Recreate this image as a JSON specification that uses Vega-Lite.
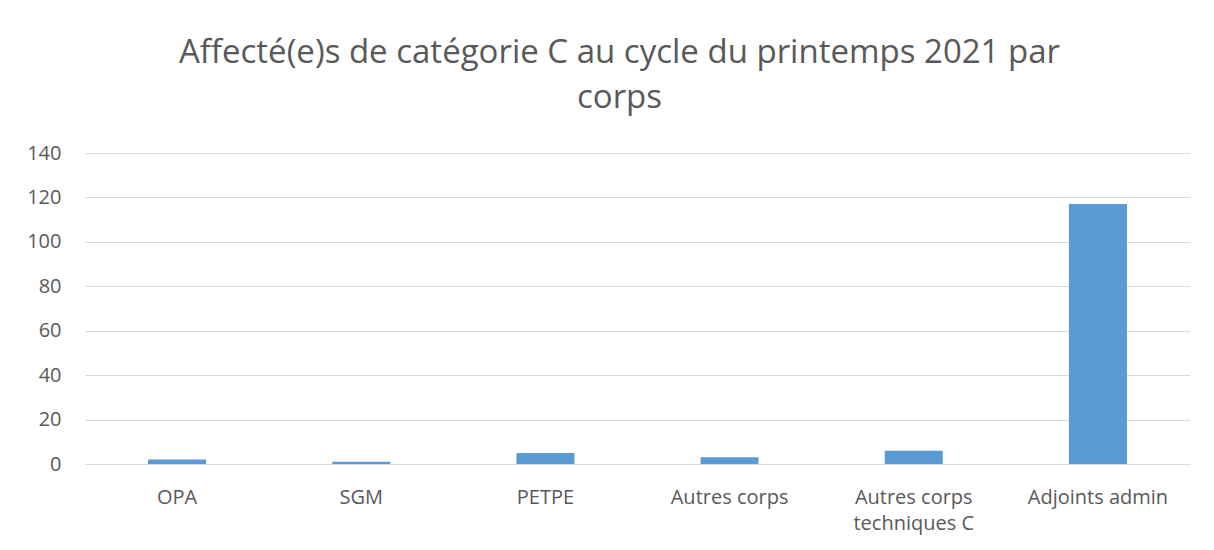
{
  "$schema": "https://vega.github.io/schema/vega-lite/v6.json",
  "autosize": {"type": "fit", "contains": "padding"},
  "width": 1214,
  "height": 550,
  "padding": {"left": 26, "right": 24, "top": 37, "bottom": 17},
  "background": "white",
  "title": {
    "text": ["Affecté(e)s de catégorie C au cycle du printemps 2021 par", "corps"],
    "font": "Open Sans",
    "fontSize": 33,
    "fontWeight": "normal",
    "color": "#595959",
    "lineHeight": 45,
    "anchor": "middle",
    "dx": -18,
    "offset": 28
  },
  "data": {
    "values": [
      {"corps": "OPA", "n": 2},
      {"corps": "SGM", "n": 1},
      {"corps": "PETPE", "n": 5},
      {"corps": "Autres corps", "n": 3},
      {"corps": "Autres corps techniques C", "n": 6},
      {"corps": "Adjoints admin", "n": 117}
    ]
  },
  "mark": {"type": "bar", "color": "#5b9bd5"},
  "encoding": {
    "x": {
      "field": "corps",
      "type": "nominal",
      "sort": null,
      "title": null,
      "scale": {"paddingInner": 0.685, "paddingOuter": 0.3425},
      "axis": {
        "labelAngle": 0,
        "labelFont": "Open Sans",
        "labelFontSize": 20,
        "labelColor": "#595959",
        "labelPadding": 23,
        "labelLineHeight": 26,
        "ticks": false,
        "domainColor": "#d9d9d9",
        "domainWidth": 1,
        "labelExpr": "datum.label == 'Autres corps techniques C' ? ['Autres corps', 'techniques C'] : datum.label"
      }
    },
    "y": {
      "field": "n",
      "type": "quantitative",
      "title": null,
      "scale": {"domain": [0, 140]},
      "axis": {
        "values": [0, 20, 40, 60, 80, 100, 120, 140],
        "labelFont": "Open Sans",
        "labelFontSize": 20,
        "labelColor": "#595959",
        "labelPadding": 24,
        "ticks": false,
        "domain": false,
        "gridColor": "#d9d9d9",
        "gridWidth": 1
      }
    }
  },
  "config": {"view": {"stroke": null}}
}
